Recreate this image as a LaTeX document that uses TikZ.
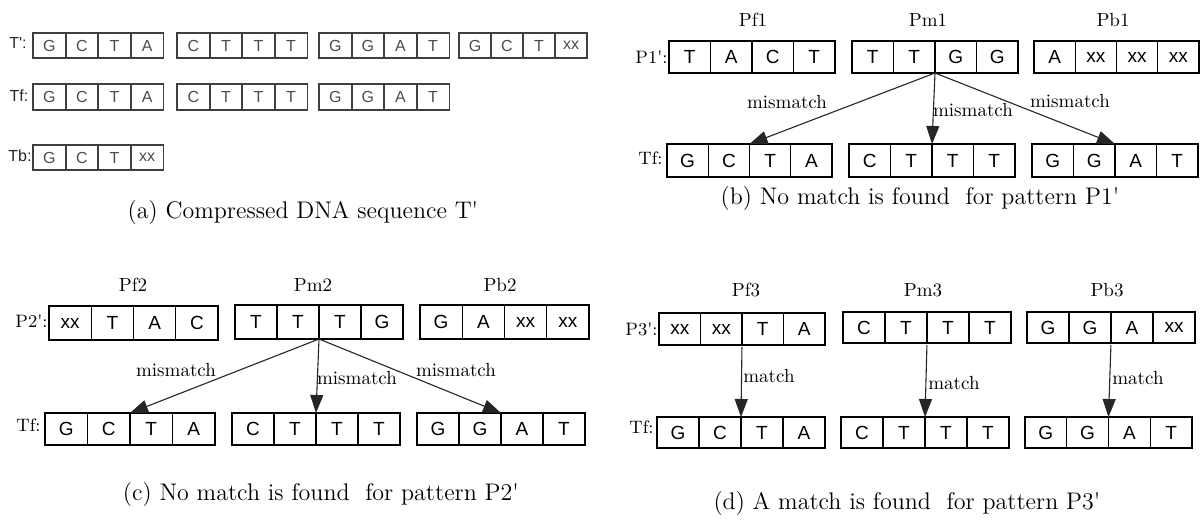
\documentclass[tikz,border=0pt]{standalone}
\usepackage{fontspec}
\setsansfont{Liberation Sans}
\usepackage{graphicx}
\usetikzlibrary{arrows.meta}
\newcommand{\sq}{\textquotesingle}
\tikzset{
  cellb/.style={draw=black, line width=0.6pt, inner sep=0pt, outer sep=0pt, font=\sffamily\fontsize{9.5}{10}\selectfont},
  cella/.style={draw=black!75, line width=0.9pt, inner sep=0pt, outer sep=0pt, font=\sffamily\fontsize{8}{9}\selectfont, text=black!70},
  lbl/.style={font=\fontsize{9.5}{10}\selectfont, inner sep=0pt},
  rowlbl/.style={font=\fontsize{9}{10}\selectfont, inner sep=0pt, anchor=east},
  albl/.style={font=\sffamily\fontsize{8}{9}\selectfont, inner sep=0pt, text=black!85},
  mlbl/.style={font=\fontsize{9.5}{10}\selectfont, inner sep=0.5pt, anchor=west},
  captxt/.style={font=\fontsize{12}{14}\selectfont, inner sep=0pt},
  arr/.style={draw=black!85, line width=0.55pt, -{Triangle[width=6.5pt,length=9pt]}},
}
\newcommand{\dnaseq}[7]{%
  \foreach \lt [count=\ci] in {#7}{%
    \node[#1, minimum width={#5*0.5pt}, minimum height={#6*0.5pt}] (#2-\ci) at ({#3+(\ci-0.5)*#5},{#4+#6/2}) {\lt};
  }%
}
\begin{document}
\begin{tikzpicture}[x=0.5pt,y=-0.5pt]
\useasboundingbox (0,0) rectangle (1200,521);
\fill[white] (0,0) rectangle (1200,521);
% ---------- (a)
\node[albl] (lTp) at (18,43) {T\sq:};
\dnaseq{cella}{ta1}{33}{33}{32.6}{25}{G,C,T,A}
\dnaseq{cella}{ta2}{177}{33}{32.6}{25}{C,T,T,T}
\dnaseq{cella}{ta3}{319}{33}{32.6}{25}{G,G,A,T}
\dnaseq{cella}{ta4}{459}{33}{32}{25}{G,C,T,xx}
\node[albl] (lTf) at (19,96) {Tf:};
\dnaseq{cella}{fa1}{33}{84}{32.6}{26}{G,C,T,A}
\dnaseq{cella}{fa2}{177}{84}{32.6}{26}{C,T,T,T}
\dnaseq{cella}{fa3}{319}{84}{32.6}{26}{G,G,A,T}
\node[albl] (lTb) at (20,156) {Tb:};
\dnaseq{cella}{ba1}{33}{145}{32.6}{25}{G,C,T,xx}
\node[captxt] (capa) at (303,213) {(a) Compressed DNA sequence T\sq};
% ---------- (b)
\node[lbl] (lpf1) at (753,20) {Pf1};
\node[lbl] (lpm1) at (928,20) {Pm1};
\node[lbl] (lpb1) at (1113,20) {Pb1};
\node[rowlbl] (lp1) at (668,57) {P1\sq:};
\dnaseq{cellb}{pf1}{669}{41}{41.5}{32}{T,A,C,T}
\dnaseq{cellb}{pm1}{852}{41}{41.5}{32}{T,T,G,G}
\dnaseq{cellb}{pb1}{1034}{41}{41.25}{32}{A,xx,xx,xx}
\node[rowlbl] (ltfb) at (663,158) {Tf:};
\dnaseq{cellb}{tfb1}{667}{144}{41.25}{33}{G,C,T,A}
\dnaseq{cellb}{tfb2}{849}{144}{41.5}{33}{C,T,T,T}
\dnaseq{cellb}{tfb3}{1032}{144}{41.5}{33}{G,G,A,T}
\draw[arr] (pm1-2.south east) -- (tfb1-2.north east);
\draw[arr] (pm1-2.south east) -- (tfb2-2.north east);
\draw[arr] (pm1-2.south east) -- (tfb3-2.north east);
\node[lbl] (mmb1) at (787,102) {mismatch};
\node[lbl] (mmb2) at (973,110) {mismatch};
\node[lbl] (mmb3) at (1070,101) {mismatch};
\node[captxt] (capb) at (920,199) {(b) No match is found \ for pattern P1\sq};
% ---------- (c)
\node[lbl] (lpf2) at (133,285) {Pf2};
\node[lbl] (lpm2) at (313,285) {Pm2};
\node[lbl] (lpb2) at (500,285) {Pb2};
\node[rowlbl] (lp2) at (48,321) {P2\sq:};
\dnaseq{cellb}{pf2}{49}{306}{42.25}{34}{xx,T,A,C}
\dnaseq{cellb}{pm2}{235}{305}{42}{34}{T,T,T,G}
\dnaseq{cellb}{pb2}{420}{305}{42.25}{34}{G,A,xx,xx}
\node[rowlbl] (ltfc) at (41,425) {Tf:};
\dnaseq{cellb}{tfc1}{45}{413}{42.5}{32}{G,C,T,A}
\dnaseq{cellb}{tfc2}{232}{413}{42}{32}{C,T,T,T}
\dnaseq{cellb}{tfc3}{417}{413}{42}{32}{G,G,A,T}
\draw[arr] (pm2-2.south east) -- (tfc1-2.north east);
\draw[arr] (pm2-2.south east) -- (tfc2-2.north east);
\draw[arr] (pm2-2.south east) -- (tfc3-2.north east);
\node[lbl] (mmc1) at (176,370) {mismatch};
\node[lbl] (mmc2) at (357,378) {mismatch};
\node[lbl] (mmc3) at (456,370) {mismatch};
\node[captxt] (capc) at (321,495) {(c) No match is found \ for pattern P2\sq};
% ---------- (d)
\node[lbl] (lpf3) at (746,290) {Pf3};
\node[lbl] (lpm3) at (923,290) {Pm3};
\node[lbl] (lpb3) at (1107,290) {Pb3};
\node[rowlbl] (lp3) at (658,329) {P3\sq:};
\dnaseq{cellb}{pf3}{659}{313}{41.5}{32}{xx,xx,T,A}
\dnaseq{cellb}{pm3}{843}{312}{42}{31}{C,T,T,T}
\dnaseq{cellb}{pb3}{1027}{312}{42}{31}{G,G,A,xx}
\node[rowlbl] (ltfd) at (654,427) {Tf:};
\dnaseq{cellb}{tfd1}{657}{417}{42}{31}{G,C,T,A}
\dnaseq{cellb}{tfd2}{841}{417}{42}{31}{C,T,T,T}
\dnaseq{cellb}{tfd3}{1025}{417}{41.75}{31}{G,G,A,T}
\draw[arr, shorten <=1pt] (pf3-2.south east) -- (tfd1-2.north east);
\draw[arr, shorten <=1pt] (pm3-2.south east) -- (tfd2-2.north east);
\draw[arr, shorten <=1pt] (pb3-2.south east) -- (tfd3-2.north east);
\node[mlbl] (mtd1) at (742,376) {match};
\node[mlbl] (mtd2) at (927,383) {match};
\node[mlbl] (mtd3) at (1111,378) {match};
\node[captxt] (capd) at (907,503) {(d) A match is found \ for pattern P3\sq};
\end{tikzpicture}
\end{document}
